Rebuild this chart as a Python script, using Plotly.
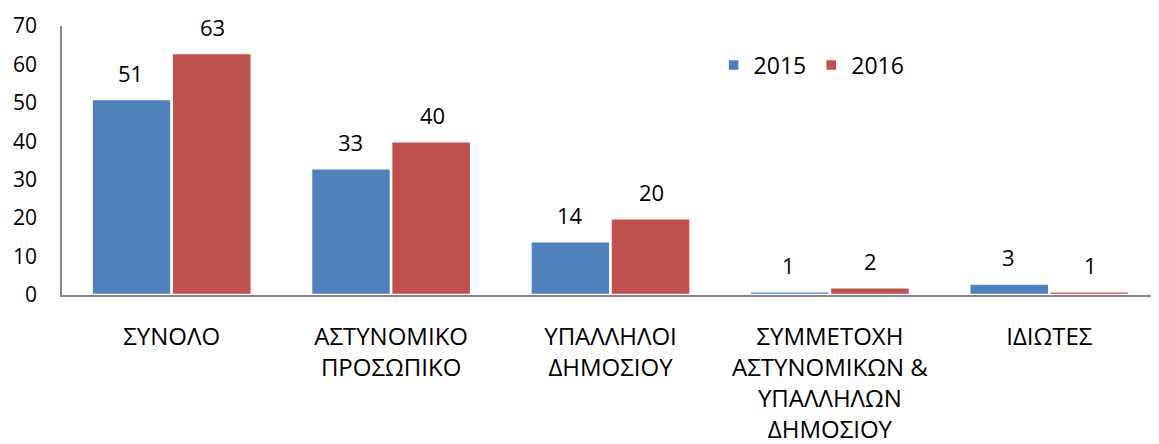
import plotly.graph_objects as go

categories = ["ΣΥΝΟΛΟ", "ΑΣΤΥΝΟΜΙΚΟ<br>ΠΡΟΣΩΠΙΚΟ", "ΥΠΑΛΛΗΛΟΙ<br>ΔΗΜΟΣΙΟΥ",
              "ΣΥΜΜΕΤΟΧΗ<br>ΑΣΤΥΝΟΜΙΚΩΝ &<br>ΥΠΑΛΛΗΛΩΝ<br>ΔΗΜΟΣΙΟΥ", "ΙΔΙΩΤΕΣ"]
series_names = ["2015", "2016"]
values_2015 = [51, 33, 14, 1, 3]
values_2016 = [63, 40, 20, 2, 1]
colors = ["#4F81BD", "#C0504D"]
y_ticks = [0, 10, 20, 30, 40, 50, 60, 70]

FONT = "Open Sans"
FS = 24
fig = go.Figure()
for name, vals, col in zip(series_names, [values_2015, values_2016], colors):
    fig.add_trace(go.Bar(
        x=categories, y=vals, name=name,
        marker=dict(color=col, line=dict(color="white", width=2.5)),
    ))

# data labels
for i, vals in enumerate([values_2015, values_2016]):
    shift = -41 if i == 0 else 41
    for c, v in zip(categories, vals):
        fig.add_annotation(x=c, y=v, text=str(v), showarrow=False,
                           xshift=shift, yshift=26, yanchor="middle",
                           font=dict(family=FONT, size=22, color="#000"))

fig.update_layout(
    width=1151, height=436,
    margin=dict(l=54, r=0, t=18, b=149, autoexpand=False),
    paper_bgcolor="white", plot_bgcolor="white",
    barmode="group", bargap=0.27, bargroupgap=0,
    font=dict(family=FONT, size=FS, color="#000"),
    showlegend=True,
    legend=dict(orientation="h", x=0.594, xanchor="left", y=0.855, yanchor="middle",
                font=dict(family=FONT, size=23, color="#000"),
                bgcolor="rgba(0,0,0,0)", traceorder="normal"),
    xaxis=dict(showline=True, linecolor="#868686", linewidth=1.5, ticks="",
               range=[-0.5, 4.5], showgrid=False, ticklabelstandoff=19,
               tickfont=dict(family=FONT, size=FS)),
    yaxis=dict(showline=True, linecolor="#868686", linewidth=1.5, range=[0, 70],
               tickvals=y_ticks, showgrid=False, zeroline=False, ticks="",
               ticklabelstandoff=19, tickfont=dict(family=FONT, size=21)),
)
fig.write_html("out.html")
